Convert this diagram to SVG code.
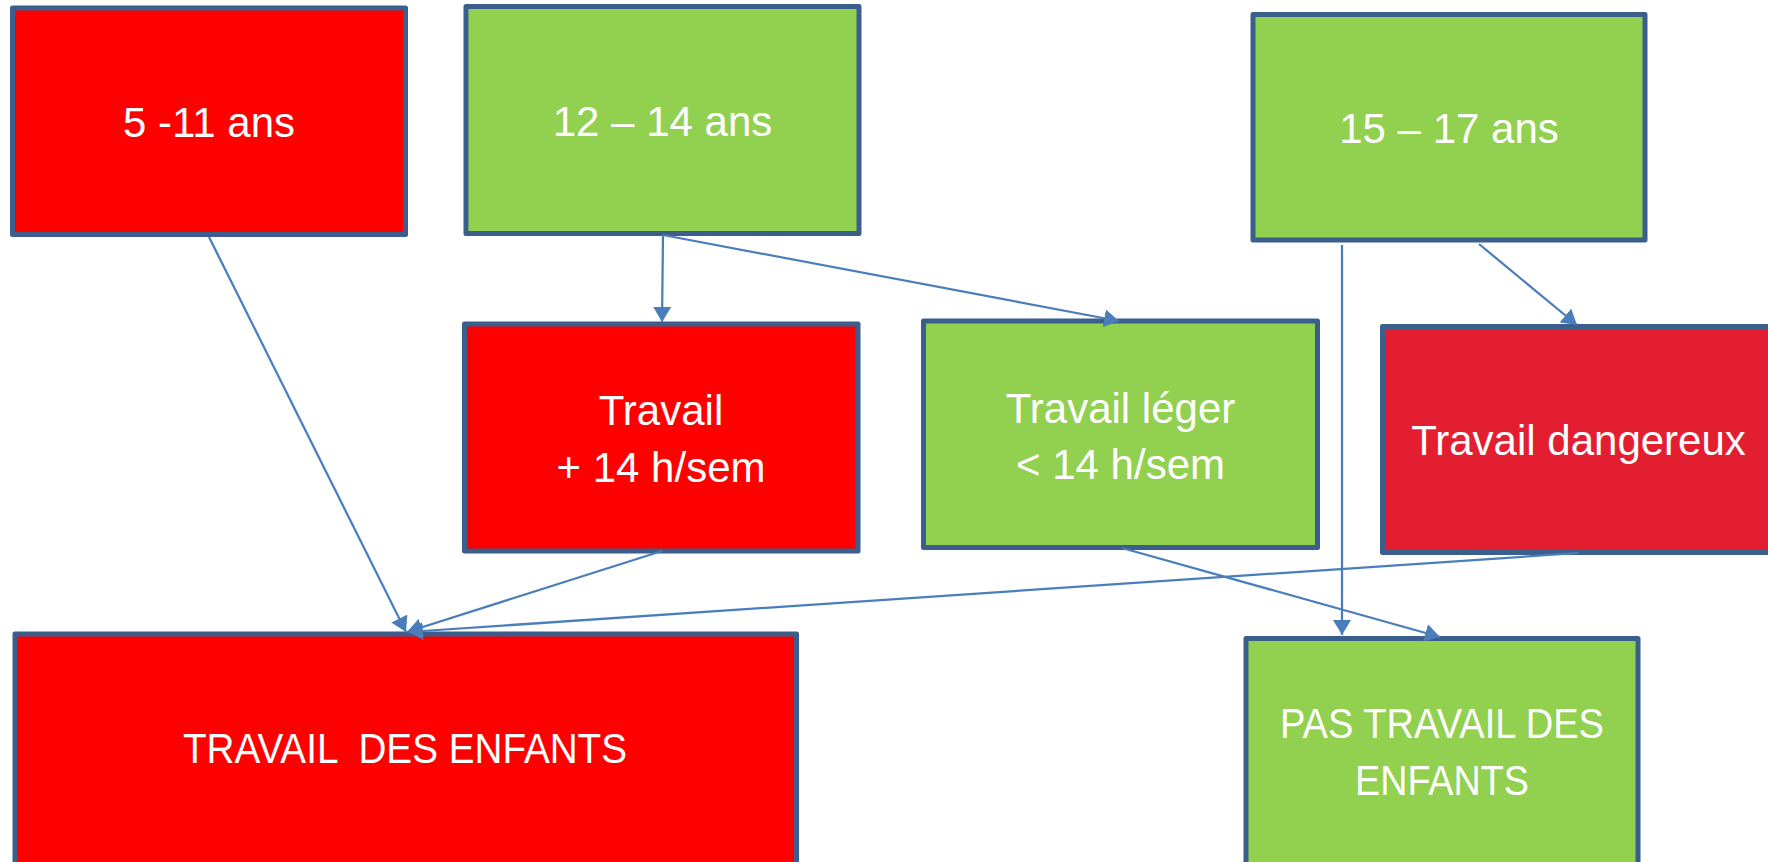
<svg xmlns="http://www.w3.org/2000/svg" width="1768" height="862" viewBox="0 0 1768 862">
  <defs>
    <marker id="arr" markerUnits="userSpaceOnUse" markerWidth="16" markerHeight="18" refX="15" refY="9" orient="auto">
      <path d="M0,0 L15,9 L0,18 z" fill="#4A7EBB"/>
    </marker>
  </defs>
  <style>
    .box { stroke: #3B5E8C; stroke-width: 5; stroke-linejoin: round; }
    .red { fill: #FF0000; }
    .green { fill: #92D050; }
    .crimson { fill: #E31E31; }
    .lbl { font-family: "Liberation Sans", Arial, sans-serif; font-size: 42px; fill: #FFFFFF; text-anchor: middle; white-space: pre; }
    .con { stroke: #4A7EBB; stroke-width: 2.25; fill: none; marker-end: url(#arr); }
  </style>
  <rect width="1768" height="862" fill="#FFFFFF"/>

  <g id="n-5-11">
    <rect class="box red" x="12.5" y="8" width="393" height="226.5"/>
    <text class="lbl" x="209" y="137">5 -11 ans</text>
  </g>
  <g id="n-12-14">
    <rect class="box green" x="466" y="6.5" width="393" height="227"/>
    <text class="lbl" x="662.5" y="136">12 – 14 ans</text>
  </g>
  <g id="n-15-17">
    <rect class="box green" x="1253" y="14.5" width="392" height="225.5"/>
    <text class="lbl" x="1449" y="143">15 – 17 ans</text>
  </g>
  <g id="n-travail-plus">
    <rect class="box red" x="464.5" y="324" width="393.5" height="227"/>
    <text class="lbl" x="661" y="425">Travail</text>
    <text class="lbl" x="661" y="482">+ 14 h/sem</text>
  </g>
  <g id="n-travail-leger">
    <rect class="box green" x="923.5" y="321" width="394" height="226.5"/>
    <text class="lbl" x="1120.5" y="423">Travail léger</text>
    <text class="lbl" x="1120.5" y="479">&lt; 14 h/sem</text>
  </g>
  <g id="n-travail-dangereux">
    <rect class="box crimson" x="1382.5" y="326.5" width="400" height="226"/>
    <text class="lbl" x="1578.5" y="455">Travail dangereux</text>
  </g>
  <g id="n-travail-enfants">
    <rect class="box red" x="15" y="634" width="781.5" height="240"/>
    <text class="lbl" x="405" y="763" textLength="444" lengthAdjust="spacingAndGlyphs" xml:space="preserve">TRAVAIL  DES ENFANTS</text>
  </g>
  <g id="n-pas-travail">
    <rect class="box green" x="1246" y="638.5" width="392" height="240"/>
    <text class="lbl" x="1442" y="738" textLength="324" lengthAdjust="spacingAndGlyphs">PAS TRAVAIL DES</text>
    <text class="lbl" x="1442" y="795" textLength="174" lengthAdjust="spacingAndGlyphs">ENFANTS</text>
  </g>

  <g id="connectors">
    <line class="con" x1="209" y1="237" x2="406" y2="632"/>
    <line class="con" x1="663" y1="235" x2="662" y2="322"/>
    <line class="con" x1="663" y1="235" x2="1119" y2="321"/>
    <line class="con" x1="1479" y1="244" x2="1577" y2="325"/>
    <line class="con" x1="1342" y1="245" x2="1342" y2="635"/>
    <line class="con" x1="662" y1="551" x2="407" y2="632"/>
    <line class="con" x1="1122" y1="548" x2="1440" y2="637"/>
    <line class="con" x1="1578" y1="553" x2="408" y2="632"/>
  </g>
</svg>
